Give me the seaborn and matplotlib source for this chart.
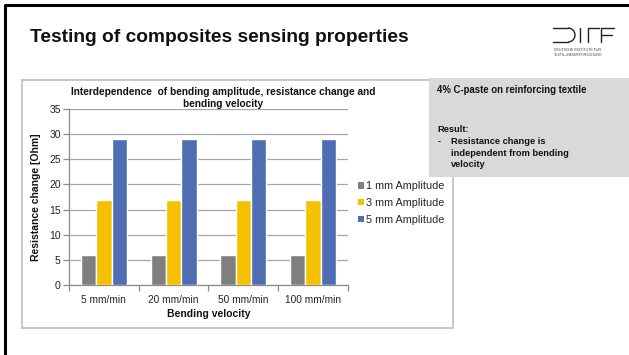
import matplotlib
matplotlib.use("Agg")
import matplotlib.pyplot as plt
from matplotlib.patches import Rectangle, Arc
from matplotlib.lines import Line2D
import seaborn as sns
import pandas as pd

# Data
velocities = ["5 mm/min", "20 mm/min", "50 mm/min", "100 mm/min"]
amplitudes = ["1 mm Amplitude", "3 mm Amplitude", "5 mm Amplitude"]
amp_1mm = [6, 6, 6, 6]
amp_3mm = [17, 17, 17, 17]
amp_5mm = [29, 29, 29, 29]
y_ticks = [0, 5, 10, 15, 20, 25, 30, 35]
colors = ["#7F7F7F", "#F5C000", "#4E6DB3"]

rows = []
for amp, vals in zip(amplitudes, [amp_1mm, amp_3mm, amp_5mm]):
    for v, r in zip(velocities, vals):
        rows.append({"velocity": v, "amplitude": amp, "resistance": r})
df = pd.DataFrame(rows)

sns.set_theme(style="white")
plt.rcParams["font.family"] = ["Liberation Sans", "DejaVu Sans"]

W, H = 629, 355
fig = plt.figure(figsize=(W / 100, H / 100), dpi=100)
fig.patch.set_facecolor("white")


def fx(px):
    return px / W


def fy(py):
    return 1 - py / H


# Slide frame
fig.add_artist(Line2D([fx(5), fx(5), fx(629)], [fy(355), fy(5), fy(5)],
                      color="black", lw=2.2, transform=fig.transFigure))

# Slide heading
fig.text(fx(30), fy(38), "Testing of composites sensing properties",
         fontsize=13.8, fontweight="bold", color="#111111", va="center", ha="left")

# Institute logo
lc = "#222222"
lw = 1.0
tf = fig.transFigure
fig.add_artist(Line2D([fx(553), fx(568)], [fy(28), fy(28)], color=lc, lw=lw, transform=tf))
fig.add_artist(Line2D([fx(553), fx(568)], [fy(42), fy(42)], color=lc, lw=lw, transform=tf))
fig.add_artist(Arc((fx(568), fy(35)), fx(14), 14 / H, theta1=-90, theta2=90,
                   color=lc, lw=lw, transform=tf))
fig.add_artist(Line2D([fx(580), fx(580)], [fy(28), fy(42)], color=lc, lw=lw, transform=tf))
fig.add_artist(Line2D([fx(588), fx(588)], [fy(28), fy(42)], color=lc, lw=lw, transform=tf))
fig.add_artist(Line2D([fx(588), fx(599)], [fy(28), fy(28)], color=lc, lw=lw, transform=tf))
fig.add_artist(Line2D([fx(601), fx(601)], [fy(28), fy(42)], color=lc, lw=lw, transform=tf))
fig.add_artist(Line2D([fx(601), fx(614)], [fy(28), fy(28)], color=lc, lw=lw, transform=tf))
fig.add_artist(Line2D([fx(601), fx(612)], [fy(35), fy(35)], color=lc, lw=lw, transform=tf))
fig.text(fx(554), fy(50), "DEUTSCHE INSTITUTE FÜR", fontsize=2.6, color="#444444",
         va="center", ha="left")
fig.text(fx(554), fy(55), "TEXTIL+FASERFORSCHUNG", fontsize=2.6, color="#444444",
         va="center", ha="left")

# Chart frame
fig.add_artist(Rectangle((fx(22), fy(328)), fx(453) - fx(22), fy(80) - fy(328),
                         facecolor="none", edgecolor="#BFBFBF", lw=1.2, transform=tf))

# Bar chart
ax = fig.add_axes([fx(69), fy(285), fx(348) - fx(69), fy(109) - fy(285)])
sns.barplot(data=df, x="velocity", y="resistance", hue="amplitude",
            order=velocities, hue_order=amplitudes, palette=colors,
            width=0.66, gap=0, saturation=1, errorbar=None, ax=ax, zorder=3)
ax.set_ylim(0, 35)
ax.set_xlim(-0.5, 3.5)
ax.set_yticks(y_ticks)
ax.set_yticklabels([str(t) for t in y_ticks], fontsize=7.5, color="#222222")
ax.yaxis.grid(True, color="#A6A6A6", lw=0.9, zorder=0)
ax.set_axisbelow(True)
for s in ["top", "right"]:
    ax.spines[s].set_visible(False)
for s in ["left", "bottom"]:
    ax.spines[s].set_color("#8C8C8C")
    ax.spines[s].set_linewidth(0.9)
ax.tick_params(axis="y", direction="out", length=4, width=0.9, color="#8C8C8C", pad=2, left=True)
ax.set_xticks(range(len(velocities)))
ax.set_xticklabels(velocities, fontsize=7.3, color="#222222")
ax.tick_params(axis="x", length=0, pad=7)
ax.set_xticks([-0.5, 0.5, 1.5, 2.5, 3.5], minor=True)
ax.tick_params(axis="x", which="minor", direction="out", length=4, width=0.9,
               color="#8C8C8C", bottom=True)
ax.set_ylabel("Resistance change [Ohm]", fontsize=7.5, fontweight="bold",
              color="#111111", labelpad=6)
ax.set_xlabel("Bending velocity", fontsize=7.5, fontweight="bold",
              color="#111111", labelpad=3)
ax.set_facecolor("none")

# Legend
handles = [Rectangle((0, 0), 1, 1, facecolor=c, edgecolor="none") for c in colors]
ax.get_legend().remove()
fig.legend(handles, amplitudes, loc="center left",
           bbox_to_anchor=(fx(354), fy(203)), bbox_transform=tf, frameon=False,
           fontsize=7.8, handlelength=0.5, handleheight=0.5, handletextpad=0.2,
           labelspacing=0.62, borderaxespad=0)

# Chart title
fig.text(fx(223), fy(98),
         "Interdependence  of bending amplitude, resistance change and\nbending velocity",
         fontsize=7.3, fontweight="bold", color="#111111", ha="center", va="center",
         linespacing=1.2)

# Note box
fig.add_artist(Rectangle((fx(429), fy(177)), fx(629) - fx(429), fy(78) - fy(177),
                         facecolor="#D9D9D9", edgecolor="none", transform=tf, zorder=5))
fig.text(fx(437), fy(90), "4% C-paste on reinforcing textile", fontsize=6.9,
         fontweight="bold", color="#111111", va="center", ha="left", zorder=6)
fig.text(fx(437), fy(130), "Result:", fontsize=6.7, fontweight="bold",
         color="#111111", va="center", ha="left", zorder=6)
fig.text(fx(438), fy(142), "-", fontsize=6.7, fontweight="bold",
         color="#111111", va="center", ha="left", zorder=6)
for yy, line in zip([142, 153, 164],
                    ["Resistance change is", "independent from bending", "velocity"]):
    fig.text(fx(451), fy(yy), line, fontsize=6.7, fontweight="bold",
             color="#111111", va="center", ha="left", zorder=6)

fig.savefig("out.png", dpi=100, facecolor="white")
